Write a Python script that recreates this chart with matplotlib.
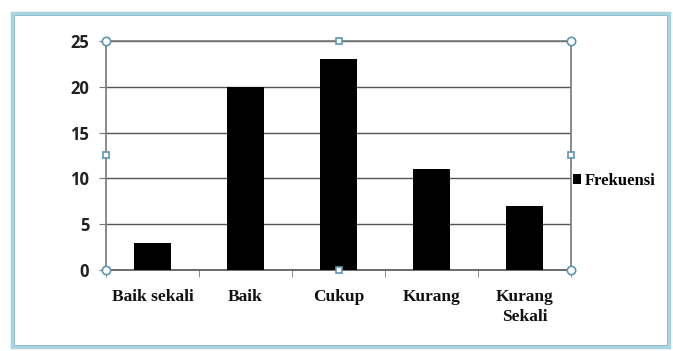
import numpy as np
import matplotlib
matplotlib.use('Agg')
import matplotlib.pyplot as plt
from matplotlib.patches import Rectangle

categories = ['Baik sekali', 'Baik', 'Cukup', 'Kurang', 'Kurang\nSekali']
frekuensi = [3, 20, 23, 11, 7]
yticks = [0, 5, 10, 15, 20, 25]

fig = plt.figure(figsize=(6.73, 3.51), dpi=100)
ax = fig.add_axes([0.1575, 0.2308, 0.691, 0.6524])

x = np.arange(len(categories))
ax.bar(x, frekuensi, width=0.39, color='black', zorder=3, label='Frekuensi')
ax.set_xlim(-0.5, len(categories) - 0.5)
ax.set_ylim(0, 25)
ax.set_yticks(yticks)
ax.set_yticklabels([str(v) for v in yticks], fontsize=12, fontweight='bold',
                   family='Open Sans', color='#222222')
ax.yaxis.grid(True, color='#555555', linewidth=1.0, zorder=0)
ax.tick_params(axis='y', length=5, color='#777777', pad=7)

ax.set_xticks(x)
ax.set_xticklabels(categories, fontsize=12.5, fontweight='bold',
                   family='Liberation Serif', color='#111111', va='top', linespacing=1.3)
ax.set_xticks(np.arange(-0.5, len(categories)), minor=True)
ax.tick_params(axis='x', which='major', length=0, pad=14)
ax.tick_params(axis='x', which='minor', length=5, color='#777777')

for s in ['left', 'right', 'top', 'bottom']:
    ax.spines[s].set_color('#777777')
    ax.spines[s].set_linewidth(1.2)
ax.spines['bottom'].set_color('#555555')

# selection handles on the plot area
hx = [0, 0.5, 1, 0, 1, 0, 0.5, 1]
hy = [1, 1, 1, 0.5, 0.5, 0, 0, 0]
hm = ['o', 's', 'o', 's', 's', 'o', 's', 'o']
for a, b, m in zip(hx, hy, hm):
    ax.plot(a, b, marker=m, markersize=6 if m == 'o' else 5, markerfacecolor='white',
            markeredgecolor='#5a96b4', markeredgewidth=1.2, transform=ax.transAxes,
            clip_on=False, zorder=5)

# legend
ax.legend(loc='center left', bbox_to_anchor=(1.0, 0.39), frameon=False,
          borderaxespad=0.1, borderpad=0, handlelength=0.5, handleheight=0.5,
          handletextpad=0.25,
          prop={'family': 'Liberation Serif', 'weight': 'bold', 'size': 12})

# outer chart frame (selected)
W, H = 673, 351
fig.patches.append(Rectangle((12 / W, 4 / H), 657 / W, 334 / H, transform=fig.transFigure,
                             fill=False, edgecolor='#a9d4e0', linewidth=2.5))
fig.patches.append(Rectangle((14 / W, 6 / H), 653 / W, 330 / H, transform=fig.transFigure,
                             fill=False, edgecolor='#7fb3c7', linewidth=0.6))

plt.savefig('out.png', dpi=100)
